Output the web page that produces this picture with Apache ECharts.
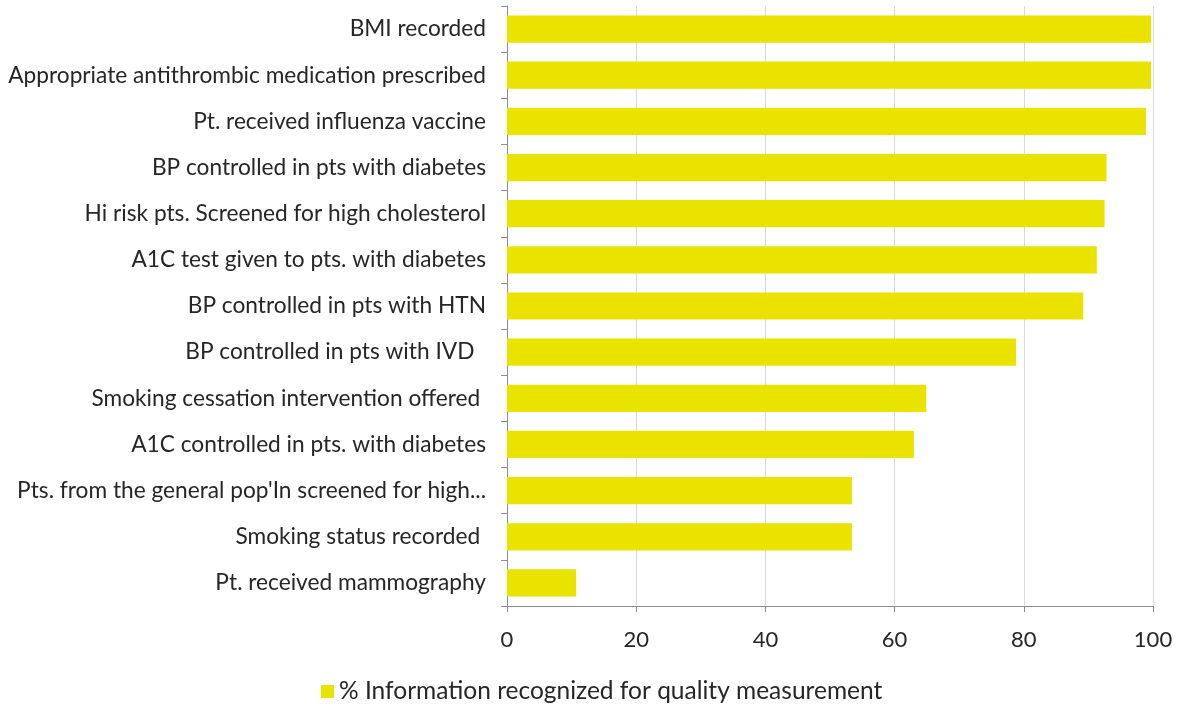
<!DOCTYPE html>
<html>
<head>
<meta charset="utf-8">
<script src="https://cdn.jsdelivr.net/npm/echarts@6/dist/echarts.min.js"></script>
<style>
  html, body { margin: 0; padding: 0; background: #fff; }
  #chart { width: 1181px; height: 713px; }
</style>
</head>
<body>
<div id="chart"></div>
<script>
// Quality measures, listed top to bottom
const categories = [
  'BMI recorded',
  'Appropriate antithrombic medication prescribed',
  'Pt. received influenza vaccine',
  'BP controlled in pts with diabetes',
  'Hi risk pts. Screened for high cholesterol',
  'A1C test given to pts. with diabetes',
  'BP controlled in pts with HTN',
  'BP controlled in pts with IVD  ',
  'Smoking cessation intervention offered ',
  'A1C controlled in pts. with diabetes',
  "Pts. from the general pop'In screened for high...",
  'Smoking status recorded ',
  'Pt. received mammography'
];
const values = [99.7, 99.7, 98.9, 92.8, 92.5, 91.3, 89.2, 78.8, 64.9, 63.0, 53.4, 53.4, 10.7];
const seriesName = '% Information recognized for quality measurement';
const xTicks = { min: 0, max: 100, interval: 20 };

const chart = echarts.init(document.getElementById('chart'), null, { renderer: 'canvas' });
const font = 'Lato, "Open Sans", "Noto Sans", sans-serif';
chart.setOption({
  animation: false,
  backgroundColor: '#ffffff',
  textStyle: { fontFamily: font },
  grid: { left: 507, right: 28, top: 6, bottom: 107, containLabel: false },
  legend: {
    bottom: 4,
    left: 316,
    itemWidth: 13,
    itemHeight: 13,
    itemGap: 6,
    icon: 'rect',
    textStyle: { fontSize: 24.5, color: '#262626', fontFamily: font },
    data: [seriesName]
  },
  xAxis: {
    type: 'value',
    min: xTicks.min,
    max: xTicks.max,
    interval: xTicks.interval,
    axisLine: { show: true, lineStyle: { color: '#8c8c8c', width: 1 } },
    axisTick: { show: true, length: 6, lineStyle: { color: '#8c8c8c' } },
    axisLabel: { fontSize: 22, color: '#262626', margin: 23, fontFamily: font },
    splitLine: { show: true, lineStyle: { color: '#d9d9d9', width: 1 } }
  },
  yAxis: {
    type: 'category',
    inverse: true,
    data: categories,
    axisLine: { show: true, lineStyle: { color: '#8c8c8c', width: 1 } },
    axisTick: { show: true, length: 6, alignWithLabel: false, lineStyle: { color: '#8c8c8c' } },
    axisLabel: { fontSize: 22.7, color: '#262626', margin: 21, fontFamily: font },
    splitLine: { show: false }
  },
  series: [{
    name: seriesName,
    type: 'bar',
    data: values,
    barCategoryGap: '41%',
    itemStyle: { color: '#EAE300' }
  }]
});
</script>
</body>
</html>
